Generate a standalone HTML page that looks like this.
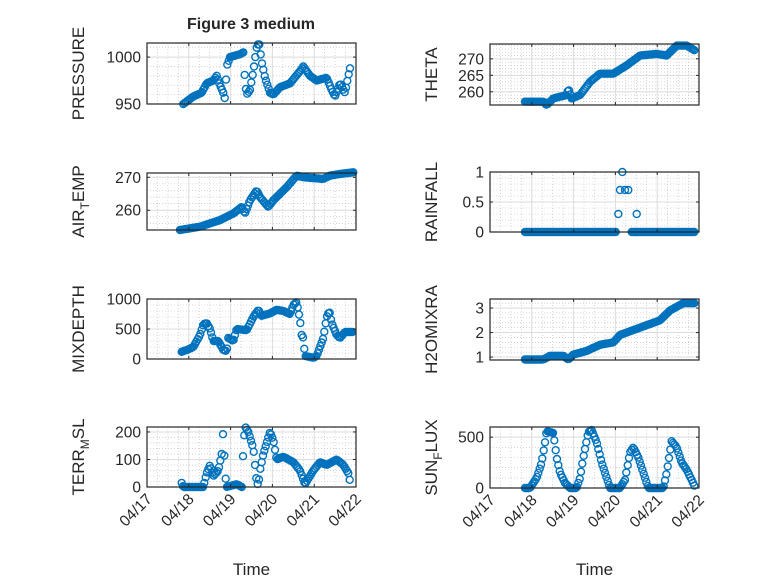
<!DOCTYPE html>
<html><head><meta charset="utf-8"><style>
html,body{margin:0;padding:0;background:#fff;width:778px;height:583px;overflow:hidden}
svg text{font-family:"Liberation Sans","DejaVu Sans",sans-serif;fill:#262626}
</style></head><body>
<svg id="s" width="778" height="583" xmlns="http://www.w3.org/2000/svg">
<text x="251" y="29" font-size="16" font-weight="bold" text-anchor="middle" fill="#000">Figure 3 medium</text>
</svg>
<script>
const S=document.getElementById('s');
const NS='http://www.w3.org/2000/svg';
function el(t,a,txt){const e=document.createElementNS(NS,t);for(const k in a)e.setAttribute(k,a[k]);if(txt!==undefined)e.textContent=txt;S.appendChild(e);return e;}
const P=[
{x0:147,x1:356,y0:43,y1:104,ymin:950,ymax:1015,yt:[950,1000],off:60,lab:'PRESSURE',lx:78,
k:[[370,950],[400,958],[425,962],[440,972],[460,975],[470,980],[480,970],[490,962],[495,955],[500,990],[510,1000],[540,1003],[550,1005],[555,975],[560,960],[570,965],[580,985],[590,1010],[597,1016],[605,995],[615,978],[630,962],[640,960],[660,968],[690,972],[720,985],[730,990],[750,980],[770,975],[800,978],[815,965],[825,958],[840,972],[855,962],[865,980],[870,988]]},
{x0:147,x1:356,y0:173,y1:230,ymin:254,ymax:271.3,yt:[260,270],off:60,lab:'AIR_TEMP',lx:78,
k:[[360,254],[420,255],[480,257],[520,259],[545,261],[555,259],[570,263],[590,266],[600,264],[625,261],[640,263],[680,267],[710,270.5],[730,270],[790,269.5],[810,270.5],[840,271],[880,271.5]]},
{x0:147,x1:356,y0:299,y1:359,ymin:0,ymax:1000,yt:[0,500,1000],off:60,lab:'MIXDEPTH',lx:78,
k:[[365,120],[385,160],[400,200],[420,400],[430,580],[440,600],[450,500],[460,300],[475,300],[490,150],[500,130],[505,350],[520,300],[530,500],[560,480],[580,700],[595,820],[605,720],[630,760],[650,820],[670,800],[690,750],[700,900],[710,950],[720,650],[725,400],[730,350],[735,50],[760,20],[770,50],[780,200],[790,350],[800,700],[808,800],[815,600],[830,400],[840,350],[855,450],[880,450]]},
{x0:147,x1:356,y0:427,y1:487,ymin:0,ymax:218,yt:[0,100,200],off:60,lab:'TERR_MSL',lx:78,
k:[[365,15],[370,0],[430,0],[440,50],[450,80],[460,40],[475,60],[485,120],[490,210],[495,50],[500,0],[530,10],[545,0],[550,140],[555,220],[565,200],[570,180],[580,140],[585,80],[590,20],[595,5],[600,60],[610,120],[620,160],[630,200],[640,170],[650,100],[670,110],[700,90],[720,60],[735,10],[760,60],[780,90],[800,80],[830,100],[850,80],[865,50],[870,20]]},
{x0:490,x1:699,y0:44,y1:105,ymin:256,ymax:274.5,yt:[260,265,270],off:410,lab:'THETA',lx:431,
k:[[345,257],[400,257],[410,256],[430,258],[470,259],[475,261],[485,258],[510,259],[540,263],[570,265.5],[610,265.5],[650,268],[690,271],[740,271.5],[770,271],[800,274],[830,274],[855,272.5]]},
{x0:490,x1:699,y0:172,y1:232,ymin:0,ymax:1,yt:[0,0.5,1],off:410,lab:'RAINFALL',lx:431,rain:1},
{x0:490,x1:699,y0:299,y1:360,ymin:0.88,ymax:3.37,yt:[1,2,3],off:410,lab:'H2OMIXRA',lx:431,
k:[[345,0.9],[400,0.9],[420,1.05],[460,1.05],[475,0.9],[490,1.1],[530,1.25],[570,1.5],[610,1.6],[630,1.9],[670,2.1],[720,2.35],[750,2.5],[780,2.9],[820,3.2],[855,3.2]]},
{x0:490,x1:699,y0:427,y1:488,ymin:0,ymax:600,yt:[0,500],off:410,lab:'SUN_FLUX',lx:431,
k:[[345,0],[360,0],[380,100],[395,250],[405,450],[410,560],[420,550],[430,540],[440,300],[450,150],[465,50],[480,0],[500,0],[510,100],[520,300],[535,550],[545,570],[560,450],[575,250],[590,100],[600,0],[630,0],[645,80],[660,350],[670,400],[685,300],[700,150],[715,0],[760,0],[770,150],[785,460],[800,400],[815,250],[830,180],[845,80],[855,10]]}
];
const days=['04/17','04/18','04/19','04/20','04/21','04/22'];
P.forEach((p,i)=>{
 const W=p.x1-p.x0,H=p.y1-p.y0;
 const sy=v=>p.y1-(v-p.ymin)/(p.ymax-p.ymin)*H;
 el('rect',{x:p.x0,y:p.y0,width:W,height:H,fill:'#fff'});
 for(let d=0;d<5;d++)for(let q=1;q<4;q++){const x=p.x0+(d+q/4)*W/5;el('line',{x1:x,x2:x,y1:p.y0,y2:p.y1,stroke:'#bbb','stroke-width':0.6,'stroke-dasharray':'1,2'});}
 const st=(p.yt[1]-p.yt[0])/5;
 for(let v=p.yt[0]-st*10;v<p.ymax;v+=st){if(v<=p.ymin)continue;const y=sy(v);el('line',{x1:p.x0,x2:p.x1,y1:y,y2:y,stroke:'#bbb','stroke-width':0.6,'stroke-dasharray':'1,2'});}
 for(let d=1;d<5;d++){const x=p.x0+d*W/5;el('line',{x1:x,x2:x,y1:p.y0,y2:p.y1,stroke:'#dcdcdc','stroke-width':1});}
 p.yt.forEach(v=>{const y=sy(v);el('line',{x1:p.x0,x2:p.x1,y1:y,y2:y,stroke:'#dcdcdc','stroke-width':1});
  el('text',{x:p.x0-6,y:y+5.5,'font-size':15.5,'text-anchor':'end'},String(v));});
 let pts=[];
 if(p.rain){
  for(let zx=345;zx<=620;zx+=4)pts.push([zx,0]);
  for(let zx=665;zx<=855;zx+=4)pts.push([zx,0]);
  pts.push([625,0.3],[630,0.7],[637,1],[645,0.7],[655,0.7],[680,0.3]);
 }else{
  const k=p.k;
  for(let zx=k[0][0];zx<=k[k.length-1][0]+0.01;zx+=4){
   let j=0;while(j<k.length-2&&k[j+1][0]<zx)j++;
   const a=k[j],b=k[j+1];const t=Math.min(1,Math.max(0,(zx-a[0])/(b[0]-a[0])));
   pts.push([zx,a[1]+(b[1]-a[1])*t]);
  }
 }
 let d='';
 pts.forEach(([zx,v])=>{const x=p.off+zx/3,y=sy(v);d+=`M${(x-3.5).toFixed(1)},${y.toFixed(1)}a3.5,3.5 0 1,0 7,0a3.5,3.5 0 1,0 -7,0`;});
 el('path',{d:d,fill:'none',stroke:'#0072BD','stroke-width':1.4});
 el('rect',{x:p.x0,y:p.y0,width:W,height:H,fill:'none',stroke:'#262626','stroke-width':1.2});
 for(let dd=1;dd<5;dd++){const x=p.x0+dd*W/5;el('line',{x1:x,x2:x,y1:p.y1,y2:p.y1-3,stroke:'#262626'});el('line',{x1:x,x2:x,y1:p.y0,y2:p.y0+3,stroke:'#262626'});}
 p.yt.forEach(v=>{const y=sy(v);el('line',{x1:p.x0,x2:p.x0+3,y1:y,y2:y,stroke:'#262626'});el('line',{x1:p.x1,x2:p.x1-3,y1:y,y2:y,stroke:'#262626'});});
 const cy=(p.y0+p.y1)/2;
 const t=el('text',{x:0,y:0,'font-size':17,'text-anchor':'middle',transform:`translate(${p.lx+6},${cy}) rotate(-90)`});
 const parts=p.lab.split('_');
 if(parts.length>1){
  const a=document.createElementNS(NS,'tspan');a.textContent=parts[0];t.appendChild(a);
  const b=document.createElementNS(NS,'tspan');b.textContent=parts[1][0];b.setAttribute('font-size','12');b.setAttribute('dy','5');t.appendChild(b);
  const c=document.createElementNS(NS,'tspan');c.textContent=parts[1].slice(1);c.setAttribute('dy','-5');t.appendChild(c);
 }else t.textContent=p.lab;
 if(i==3||i==7){
  days.forEach((s,dd)=>{const x=p.x0+dd*W/5;el('text',{x:0,y:0,'font-size':15.5,'text-anchor':'end',transform:`translate(${x+6},${p.y1+13}) rotate(-45)`},s);});
  el('text',{x:(p.x0+p.x1)/2,y:575,'font-size':17,'text-anchor':'middle'},'Time');
 }
});
</script>
</body></html>
